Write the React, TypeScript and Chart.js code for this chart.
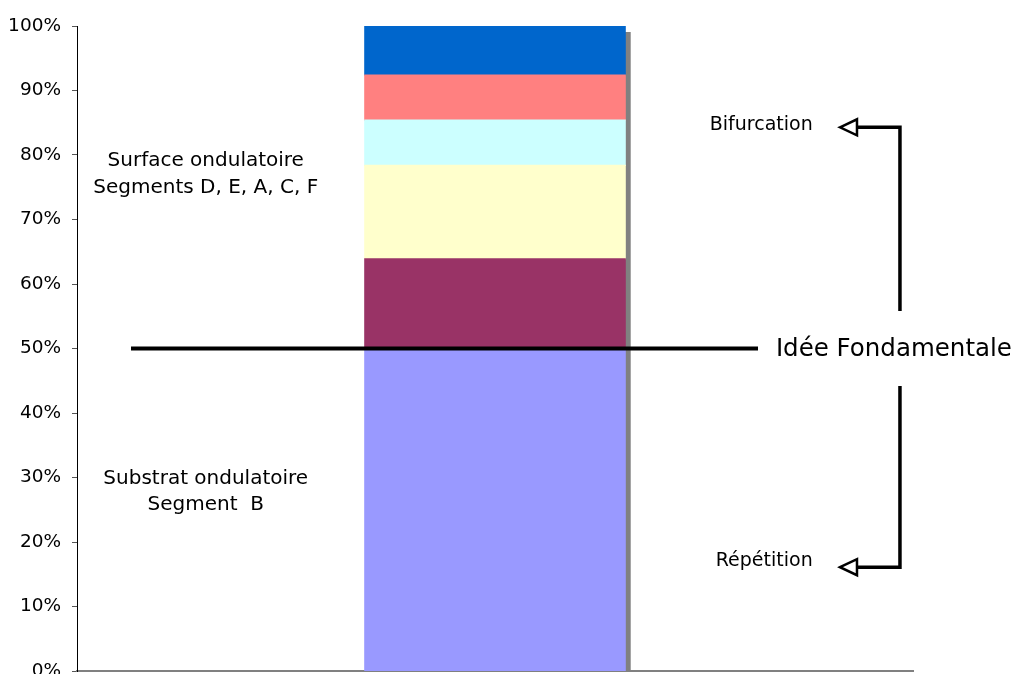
import React, { useEffect, useRef } from "react";
import { Chart, registerables } from "chart.js";

Chart.register(...registerables);

// ---- data ----
const categories = [""];
const segmentNames = ["B", "D", "E", "A", "C", "F"];
const segmentValues = [50, 13.9, 14.5, 7, 7, 7.6];
const segmentColors = ["#9999FF", "#993366", "#FFFFCC", "#CCFFFF", "#FF8080", "#0066CC"];
const yTickStep = 10;
const yMax = 100;

// annotation values (in % of the y axis)
const fundamentalLevel = 50;
const fundamentalLabel = "Idée Fondamentale";
const bifurcationLevel = 84.3;
const bifurcationLabel = "Bifurcation";
const repetitionLevel = 16.1;
const repetitionLabel = "Répétition";
const gapTop = 55.8;
const gapBottom = 44.2;
const surfaceLines = ["Surface ondulatoire", "Segments D, E, A, C, F"];
const surfaceLevels = [79.2, 75.0];
const substratLines = ["Substrat ondulatoire", "Segment  B"];
const substratLevels = [29.9, 25.9];

const FONT = "'DejaVu Sans', Verdana, sans-serif";

const shadowPlugin = {
  id: "barShadow",
  beforeDatasetsDraw(chart: any) {
    const meta = chart.getDatasetMeta(0);
    const el = meta.data[0];
    if (!el) return;
    const { x, width } = el.getProps(["x", "width"], true);
    const y = chart.scales.y;
    const total = segmentValues.reduce((a, b) => a + b, 0);
    const top = y.getPixelForValue(total);
    const bottom = y.getPixelForValue(0);
    const ctx = chart.ctx;
    ctx.save();
    ctx.fillStyle = "#808080";
    ctx.fillRect(x - width / 2 + 5, top + 6, width + 0.5, bottom - top - 6);
    ctx.restore();
  },
};

const annotationPlugin = {
  id: "annotations",
  afterDraw(chart: any) {
    const ctx = chart.ctx;
    const ca = chart.chartArea;
    const y = chart.scales.y;
    const fx = (f: number) => ca.left + f * (ca.right - ca.left);
    const yv = (v: number) => y.getPixelForValue(v);
    ctx.save();
    // main horizontal line
    ctx.strokeStyle = "#000";
    ctx.lineWidth = 4;
    ctx.lineCap = "butt";
    ctx.beginPath();
    ctx.moveTo(fx(0.0646), yv(fundamentalLevel));
    ctx.lineTo(fx(0.8146), yv(fundamentalLevel));
    ctx.stroke();

    ctx.fillStyle = "#000";
    ctx.textBaseline = "middle";
    ctx.textAlign = "left";
    ctx.font = `24.5px ${FONT}`;
    ctx.fillText(fundamentalLabel, fx(0.836), yv(fundamentalLevel) + 1);

    // bracket arrows
    const vx = fx(0.9844);
    const baseX = fx(0.933);
    const tipX = fx(0.9127);
    const drawArrow = (from: number, to: number) => {
      ctx.lineWidth = 3.5;
      ctx.lineJoin = "miter";
      ctx.beginPath();
      ctx.moveTo(vx, yv(from));
      ctx.lineTo(vx, yv(to));
      ctx.lineTo(baseX, yv(to));
      ctx.stroke();
      ctx.lineWidth = 2.5;
      ctx.beginPath();
      ctx.moveTo(tipX, yv(to));
      ctx.lineTo(baseX, yv(to) - 8);
      ctx.lineTo(baseX, yv(to) + 8);
      ctx.closePath();
      ctx.fillStyle = "#fff";
      ctx.fill();
      ctx.stroke();
    };
    drawArrow(gapTop, bifurcationLevel);
    drawArrow(gapBottom, repetitionLevel);

    ctx.fillStyle = "#000";
    ctx.font = `19px ${FONT}`;
    ctx.textAlign = "right";
    ctx.fillText(bifurcationLabel, fx(0.88), yv(bifurcationLevel) - 2);
    ctx.fillText(repetitionLabel, fx(0.88), yv(repetitionLevel) - 6);

    ctx.textAlign = "center";
    ctx.font = `20px ${FONT}`;
    surfaceLines.forEach((t, i) => ctx.fillText(t, fx(0.154), yv(surfaceLevels[i]) + 1));
    substratLines.forEach((t, i) => ctx.fillText(t, fx(0.154), yv(substratLevels[i]) + 1));
    ctx.restore();
  },
};

export default function App() {
  const ref = useRef<HTMLCanvasElement>(null);
  useEffect(() => {
    if (!ref.current) return;
    const chart = new Chart(ref.current, {
      type: "bar",
      data: {
        labels: categories,
        datasets: segmentNames.map((name, i) => ({
          label: "Segment " + name,
          data: [segmentValues[i]],
          backgroundColor: segmentColors[i],
          borderWidth: 0,
          inflateAmount: 0.6,
          categoryPercentage: 1,
          barPercentage: 0.3115,
        })),
      },
      options: {
        animation: false,
        responsive: true,
        maintainAspectRatio: false,
        layout: { padding: { left: 0, top: 26, right: 102, bottom: 3 } },
        plugins: { legend: { display: false }, tooltip: { enabled: false } },
        scales: {
          x: {
            stacked: true,
            grid: { display: false },
            ticks: { display: false },
            border: { display: true, color: "#808080", width: 2 },
            afterFit: (s: any) => {
              s.height = 0;
              s.paddingLeft = 0;
              s.paddingRight = 0;
            },
          },
          y: {
            stacked: true,
            min: 0,
            max: yMax,
            ticks: {
              stepSize: yTickStep,
              color: "#000",
              padding: 11,
              font: { family: FONT, size: 18.5 },
              callback: (v: any) => v + "%",
            },
            grid: {
              display: true,
              drawOnChartArea: false,
              drawTicks: true,
              tickLength: 5,
              color: "#555",
            },
            border: { display: true, color: "#000", width: 1 },
            afterFit: (s: any) => {
              s.width = 77;
              s.paddingTop = 0;
              s.paddingBottom = 0;
            },
          },
        },
      },
      plugins: [shadowPlugin, annotationPlugin],
    });
    return () => chart.destroy();
  }, []);
  return (
    <div style={{ position: "fixed", left: 0, top: 0, width: 1015, height: 674, background: "#fff" }}>
      <canvas ref={ref} />
    </div>
  );
}
